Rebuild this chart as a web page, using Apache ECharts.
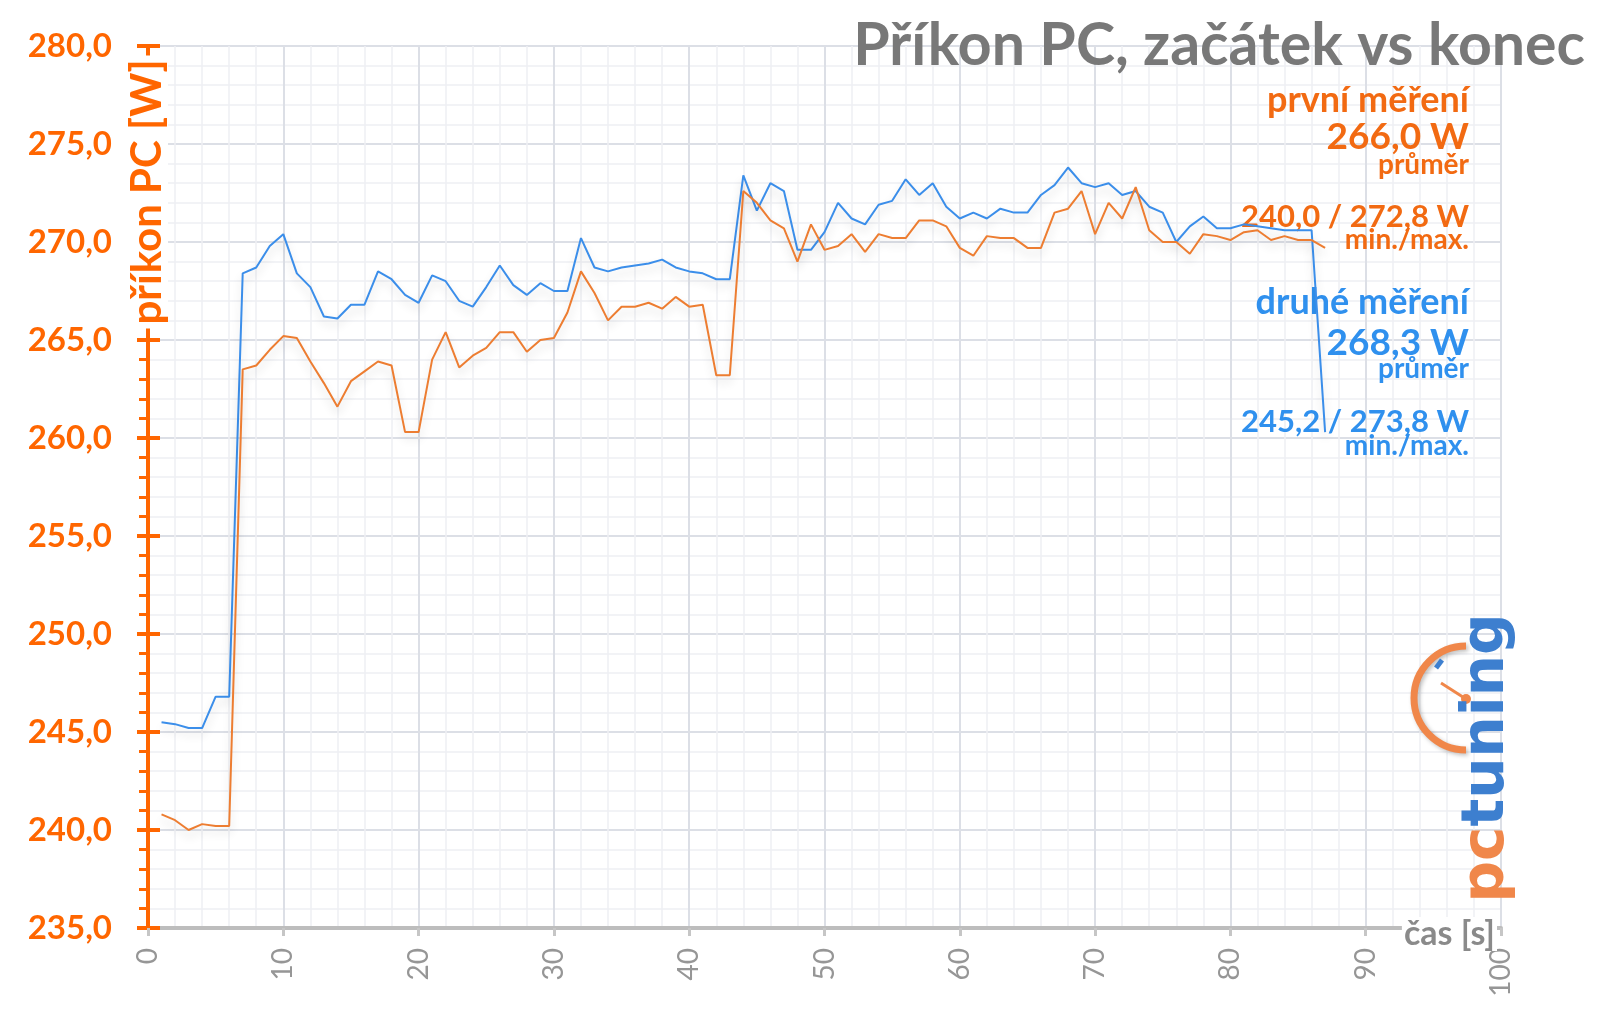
<!DOCTYPE html>
<html><head><meta charset="utf-8">
<script src="https://cdn.jsdelivr.net/npm/echarts@6/dist/echarts.min.js"></script>
<style>html,body{margin:0;padding:0;background:#fff}#c{width:1600px;height:1011px}</style>
</head><body><div id="c"></div>
<script>
// time [s]
const time = [1,2,3,4,5,6,7,8,9,10,11,12,13,14,15,16,17,18,19,20,21,22,23,24,25,26,27,28,29,30,
31,32,33,34,35,36,37,38,39,40,41,42,43,44,45,46,47,48,49,50,51,52,53,54,55,56,57,58,59,60,
61,62,63,64,65,66,67,68,69,70,71,72,73,74,75,76,77,78,79,80,81,82,83,84,85,86,87];
// první měření [W]
const first = [240.8,240.5,240.0,240.3,240.2,240.2,263.5,263.7,264.5,265.2,
265.1,263.9,262.8,261.6,262.9,263.4,263.9,263.7,260.3,260.3,
264.0,265.4,263.6,264.2,264.6,265.4,265.4,264.4,265.0,265.1,
266.4,268.5,267.4,266.0,266.7,266.7,266.9,266.6,267.2,266.7,
266.8,263.2,263.2,272.6,272.0,271.1,270.7,269.0,270.9,269.6,
269.8,270.4,269.5,270.4,270.2,270.2,271.1,271.1,270.8,269.7,
269.3,270.3,270.2,270.2,269.7,269.7,271.5,271.7,272.6,270.4,
272.0,271.2,272.8,270.6,270.0,270.0,269.4,270.4,270.3,270.1,
270.5,270.6,270.1,270.3,270.1,270.1,269.7];
// druhé měření [W]
const second = [245.5,245.4,245.2,245.2,246.8,246.8,268.4,268.7,269.8,270.4,
268.4,267.7,266.2,266.1,266.8,266.8,268.5,268.1,267.3,266.9,
268.3,268.0,267.0,266.7,267.7,268.8,267.8,267.3,267.9,267.5,
267.5,270.2,268.7,268.5,268.7,268.8,268.9,269.1,268.7,268.5,
268.4,268.1,268.1,273.4,271.6,273.0,272.6,269.6,269.6,270.5,
272.0,271.2,270.9,271.9,272.1,273.2,272.4,273.0,271.8,271.2,
271.5,271.2,271.7,271.5,271.5,272.4,272.9,273.8,273.0,272.8,
273.0,272.4,272.6,271.8,271.5,270.0,270.8,271.3,270.7,270.7,
270.9,270.8,270.7,270.6,270.6,270.6,260.3];
const yTickValues = [235,240,245,250,255,260,265,270,275,280];
const yTickLabels = ['235,0','240,0','245,0','250,0','255,0','260,0','265,0','270,0','275,0','280,0'];
const xTickValues = [0,10,20,30,40,50,60,70,80,90,100];
const xTickLabels = ['0','10','20','30','40','50','60','70','80','90','100'];
const title = 'Příkon PC, začátek vs konec';
const yName = 'příkon PC [W]';
const xName = 'čas [s]';
const firstInfo = ['první měření','266,0 W','průměr','240,0 / 272,8 W','min./max.'];
const secondInfo = ['druhé měření','268,3 W','průměr','245,2 / 273,8 W','min./max.'];

const ORANGE = '#ff6600', TXT_OR = '#f26a12', BLUE_TXT = '#2f90ee';
const LINE_OR = '#ed7d31', LINE_BL = '#3b8eea';
const FONT = 'Lato';

const chart = echarts.init(document.getElementById('c'), null, {renderer:'canvas'});

function annot(x, y, text, size, color) {
  return {type:'text', x:x, y:y, z:1, style:{text:text, fontSize:size, fontWeight:'bold',
    fontFamily:FONT, fill:color, align:'right', verticalAlign:'middle'}};
}
const LX = 1469;
const graphics = [
  {type:'text', x:1585, y:46, z:10, style:{text:title, fontSize:59, fontWeight:'bold', fontFamily:FONT,
    fill:'#787878', align:'right', verticalAlign:'middle'}},
  annot(LX, 100, firstInfo[0], 36, TXT_OR),
  annot(LX, 137, firstInfo[1], 37, TXT_OR),
  annot(LX, 165, firstInfo[2], 28, TXT_OR),
  annot(LX, 217, firstInfo[3], 31, TXT_OR),
  annot(LX, 240, firstInfo[4], 28, TXT_OR),
  annot(LX, 302, secondInfo[0], 36, BLUE_TXT),
  annot(LX, 343, secondInfo[1], 37, BLUE_TXT),
  annot(LX, 369, secondInfo[2], 28, BLUE_TXT),
  annot(LX, 422, secondInfo[3], 31, BLUE_TXT),
  annot(LX, 446, secondInfo[4], 28, BLUE_TXT),
  {type:'text', x:147, y:192, rotation:Math.PI/2, z:50, style:{text:yName, fontSize:42, fontWeight:'bold',
    fontFamily:FONT, fill:ORANGE, align:'center', verticalAlign:'middle', backgroundColor:'#fff', padding:[0,4]}},
  {type:'text', x:1497, y:934, z:50, style:{text:xName, fontSize:34, fontWeight:'bold',
    fontFamily:FONT, fill:'#8a8a8a', align:'right', verticalAlign:'middle', backgroundColor:'#fff', padding:[0,2]}},
  // logo
  {type:'arc', z:20, shape:{cx:1466, cy:698, r:52, startAngle:Math.PI/2, endAngle:Math.PI*1.5, clockwise:true},
    style:{stroke:'#f0874a', lineWidth:7, fill:null, shadowBlur:4, shadowColor:'rgba(0,0,0,0.25)', shadowOffsetX:2, shadowOffsetY:2}},
  {type:'line', z:20, shape:{x1:1441, y1:683, x2:1466, y2:699}, style:{stroke:'#f0874a', lineWidth:3}},
  {type:'circle', z:20, shape:{cx:1466, cy:699, r:5}, style:{fill:'#f0874a'}},
  {type:'line', z:20, shape:{x1:1436, y1:668, x2:1442, y2:660}, style:{stroke:'#3d7fcf', lineWidth:5}},
  {type:'text', x:1488, y:758, rotation:Math.PI/2, z:21, style:{text:'{a|pc}{b|tuning}', fontSize:58, fontWeight:'bold',
    fontFamily:'DejaVu Sans', align:'center', verticalAlign:'middle',
    shadowBlur:4, shadowColor:'rgba(0,0,0,0.3)', shadowOffsetX:2, shadowOffsetY:2,
    rich:{a:{fill:'#f0874a', fontSize:58, fontWeight:'bold', fontFamily:'DejaVu Sans'},
          b:{fill:'#3d7fcf', fontSize:58, fontWeight:'bold', fontFamily:'DejaVu Sans'}}}}
];

const lineShadow = {shadowColor:'rgba(0,0,0,0.16)', shadowBlur:10, shadowOffsetY:6};

const option = {
  animation:false,
  backgroundColor:'#fff',
  grid:{left:148, top:46, right:99, bottom:83},
  xAxis:{type:'value', min:0, max:100, interval:10,
    axisLine:{show:true, onZero:false, lineStyle:{color:'#bdbdbd', width:4}},
    axisTick:{show:true, length:8, lineStyle:{color:'#c6c6c6', width:3}},
    minorTick:{show:false, splitNumber:5},
    axisLabel:{rotate:90, margin:20, fontSize:28, fontFamily:FONT, color:'#969696', showMinLabel:true, showMaxLabel:true,
      formatter:v => { const i = xTickValues.indexOf(v); return i >= 0 ? xTickLabels[i] : ''; }},
    splitLine:{show:true, lineStyle:{color:'#dcdfe6', width:2}},
    minorSplitLine:{show:true, lineStyle:{color:'#eef0f4', width:1.5}}
  },
  yAxis:[{type:'value', min:235, max:280, interval:5, position:'left',
    axisLine:{show:true, lineStyle:{color:ORANGE, width:4}},
    axisTick:{show:true, length:11, lineStyle:{color:ORANGE, width:4}},
    minorTick:{show:true, splitNumber:5, length:9, lineStyle:{color:ORANGE, width:3}},
    axisLabel:{margin:36, fontSize:33, fontWeight:'bold', fontFamily:FONT, color:ORANGE, showMinLabel:true, showMaxLabel:true,
      formatter:v => { const i = yTickValues.indexOf(Math.round(v*10)/10); return i >= 0 ? yTickLabels[i] : ''; }},
    splitLine:{show:true, lineStyle:{color:'#dcdfe6', width:2}},
    minorSplitLine:{show:true, lineStyle:{color:'#eef0f4', width:1.5}}
  },{type:'value', min:235, max:280, interval:5, position:'left',
    axisLine:{show:false},
    axisTick:{show:true, inside:true, length:12, lineStyle:{color:ORANGE, width:4}},
    axisLabel:{show:false}, splitLine:{show:false}
  }],
  series:[
    {name:'druhé měření', type:'line', symbol:'none', z:3,
      data: time.map((t,i) => [t, second[i]]),
      lineStyle:Object.assign({color:LINE_BL, width:2}, lineShadow), itemStyle:{color:LINE_BL}},
    {name:'první měření', type:'line', symbol:'none', z:4,
      data: time.map((t,i) => [t, first[i]]),
      lineStyle:Object.assign({color:LINE_OR, width:2}, lineShadow), itemStyle:{color:LINE_OR}}
  ],
  graphic: graphics
};
chart.setOption(option);
</script></body></html>
